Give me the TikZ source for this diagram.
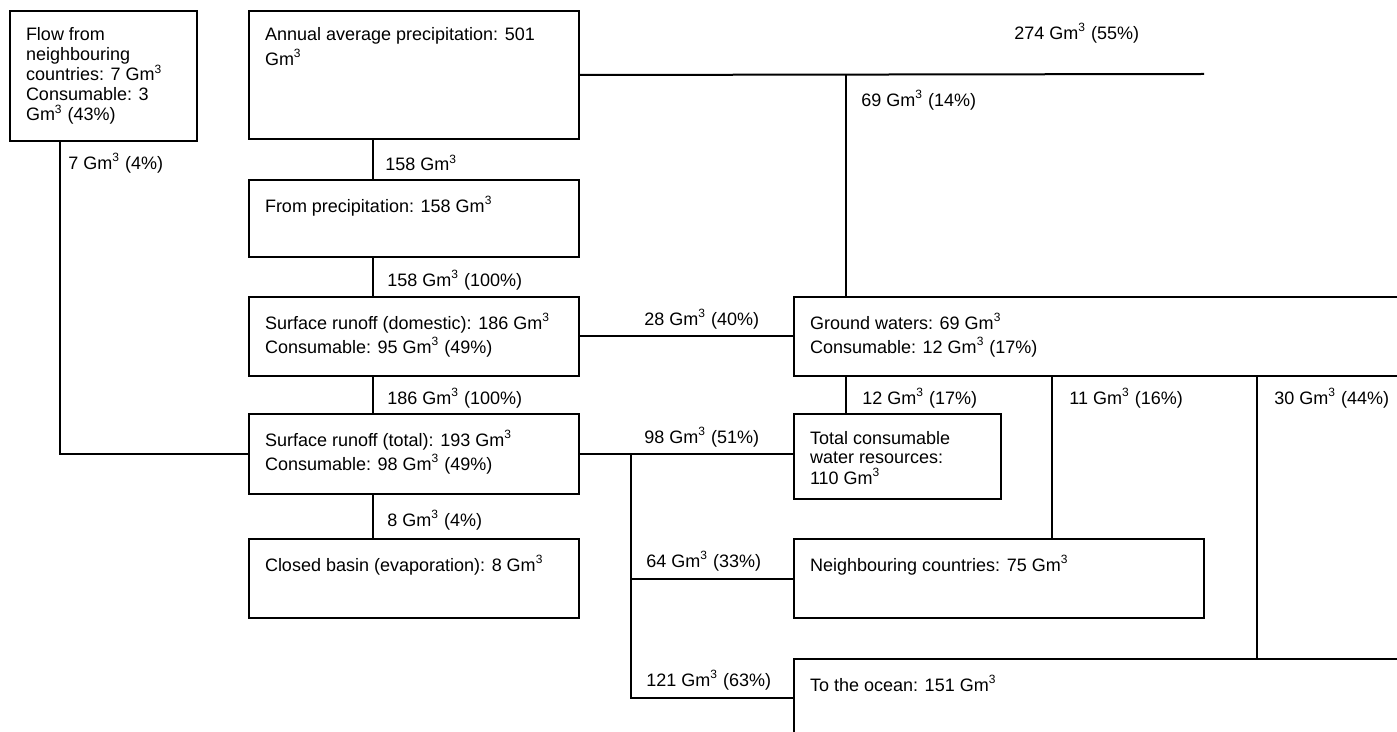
\documentclass[tikz,border=0pt]{standalone}
\usepackage{fontspec}
\setmainfont{Liberation Sans}
\newcommand{\gmc}{Gm\textsuperscript{3}}
\newcommand{\boite}[3]{\parbox[c][#2][t]{#1}{\raggedright\vspace*{8pt}\strut #3}}

\begin{document}
\begin{tikzpicture}[x=0.5pt,y=-0.5pt,
  every node/.style={font=\fontsize{9}{10}\selectfont},
  cadre/.style={draw,line width=1pt,anchor=north west,inner xsep=8pt,inner ysep=0pt},
  etiq/.style={anchor=west,inner sep=0pt},
  trait/.style={line width=1pt}]
\useasboundingbox (0,0) rectangle (1397,732); % la taille de l'image
\clip (0,0) rectangle (1397,732);
% les cadres
\node[cadre] (flux) at (9,10) {\boite{77.5pt}{65pt}{Flow from\\neighbouring\\countries: 7 \gmc\\Consumable: 3\\\gmc{} (43\%)}};
\node[cadre] (annuel) at (248,10) {\boite{149pt}{64pt}{Annual average precipitation: 501\\\gmc}};
\node[cadre] (precip) at (248,179) {\boite{149pt}{38.5pt}{From precipitation: 158 \gmc}};
\node[cadre] (domest) at (248,296) {\boite{149pt}{39.5pt}{Surface runoff (domestic): 186 \gmc\\Consumable: 95 \gmc{} (49\%)}};
\node[cadre] (total) at (248,413) {\boite{149pt}{40pt}{Surface runoff (total): 193 \gmc\\Consumable: 98 \gmc{} (49\%)}};
\node[cadre] (ferme) at (248,538) {\boite{149pt}{39.5pt}{Closed basin (evaporation): 8 \gmc}};
\node[cadre] (souterr) at (793,296) {\boite{297.5pt}{39.5pt}{Ground waters: 69 \gmc\\Consumable: 12 \gmc{} (17\%)}}; % ouvert a droite
\node[cadre] (conso) at (793,413) {\boite{87.5pt}{42.5pt}{Total consumable\\water resources:\\110 \gmc}};
\node[cadre] (voisins) at (793,538) {\boite{189pt}{39.5pt}{Neighbouring countries: 75 \gmc}};
\node[cadre] (ocean) at (793,658) {\boite{297.5pt}{39pt}{To the ocean: 151 \gmc}}; % ouvert a droite et en bas
% les colonnes des traits
\coordinate (c0) at (60,0);
\coordinate (c1) at (373,0);
\coordinate (c3) at (631,0);
\coordinate (c2) at (846,0);
\coordinate (c4) at (1052,0);
\coordinate (c5) at (1257,0);
\coordinate (evapo) at (1204,74); % bout libre
% les traits
\draw[trait] (flux.south -| c0) |- (total.west);
\draw[trait] (annuel.south -| c1) -- (precip.north -| c1);
\draw[trait] (annuel.east) -- (evapo);
\draw[trait] (annuel.east -| c2) -- (souterr.north -| c2);
\draw[trait] (precip.south -| c1) -- (domest.north -| c1);
\draw[trait] (domest.east) -- (souterr.west);
\draw[trait] (domest.south -| c1) -- (total.north -| c1);
\draw[trait] (total.east) -- (total.east -| conso.west);
\draw[trait] (total.south -| c1) -- (ferme.north -| c1);
\draw[trait] (total.east -| c3) |- (ocean.west);
\draw[trait] (c3 |- voisins.west) -- (voisins.west);
\draw[trait] (souterr.south -| c2) -- (conso.north -| c2);
\draw[trait] (souterr.south -| c4) -- (voisins.north -| c4);
\draw[trait] (souterr.south -| c5) -- (ocean.north -| c5);
% les etiquettes
\node[etiq] (e7) at (68,163) {7 \gmc{} (4\%)};
\node[etiq] (e158) at (385,163) {158 \gmc};
\node[etiq] (e274) at (1014,33) {274 \gmc{} (55\%)};
\node[etiq] (e69) at (861,100) {69 \gmc{} (14\%)};
\node[etiq] (e158b) at (387,280) {158 \gmc{} (100\%)};
\node[etiq] (e28) at (644,319) {28 \gmc{} (40\%)};
\node[etiq] (e186) at (387,398) {186 \gmc{} (100\%)};
\node[etiq] (e12) at (862,398) {12 \gmc{} (17\%)};
\node[etiq] (e11) at (1069,398) {11 \gmc{} (16\%)};
\node[etiq] (e30) at (1274,398) {30 \gmc{} (44\%)};
\node[etiq] (e98) at (644,437) {98 \gmc{} (51\%)};
\node[etiq] (e8) at (387,520) {8 \gmc{} (4\%)};
\node[etiq] (e64) at (646,561) {64 \gmc{} (33\%)};
\node[etiq] (e121) at (646,680) {121 \gmc{} (63\%)};
\end{tikzpicture}
\end{document}
